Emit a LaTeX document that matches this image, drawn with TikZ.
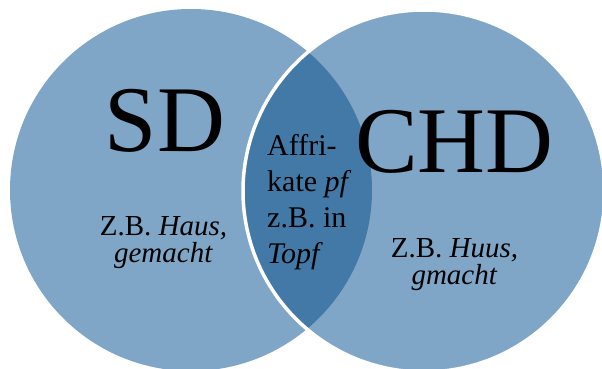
\documentclass[tikz,border=0pt]{standalone}
\usepackage{fontspec}
\setmainfont{LiberationSerif}[Extension=.ttf, UprightFont=*-Regular, ItalicFont=*-Italic, BoldFont=*-Bold, BoldItalicFont=*-BoldItalic]
\usetikzlibrary{positioning}
\definecolor{venlight}{HTML}{7FA6C7}
\definecolor{vendark}{HTML}{4379A7}

\begin{document}
\begin{tikzpicture}[
  x=1pt, y=-1pt,
  bigtag/.style={font=\fontsize{94}{94}\selectfont, inner sep=0pt, anchor=base},
  note/.style={font=\fontsize{29}{27}\selectfont, inner sep=0pt, align=center, anchor=north},
  lenstext/.style={font=\fontsize{30}{36}\selectfont, inner sep=0pt, align=left, anchor=north west},
]
  \useasboundingbox (0,0) rectangle (602,369);
  \coordinate (sdc) at (191,190);
  \coordinate (chdc) at (424,191);

  \fill[venlight] (sdc) circle[radius=181];
  \fill[venlight] (chdc) circle[radius=181];
  % overlap of both sets
  \begin{scope}
    \clip (sdc) circle[radius=181];
    \fill[vendark] (chdc) circle[radius=181];
  \end{scope}
  \draw[white, line width=3.5pt] (chdc) circle[radius=181];

  \node[bigtag] (sd) at (165,151) {SD};
  \node[bigtag] (chd) at (454.5,172) {CHD};
  \node[note] (sdex) at (163.5,216.5) {Z.B. \textit{Haus,}\\\textit{gemacht}};
  \node[note] (chdex) at (454.5,238) {Z.B. \textit{Huus,}\\\textit{gmacht}};
  \node[lenstext] (shared) at (267,134.5) {Affri-\\kate \textit{pf}\\z.B. in\\\textit{Topf}};
\end{tikzpicture}
\end{document}
